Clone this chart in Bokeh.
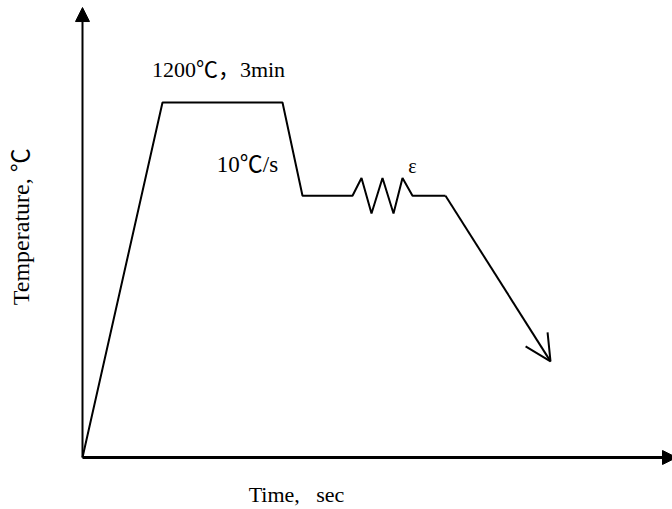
from bokeh.plotting import figure
from bokeh.models import Arrow, NormalHead, OpenHead, Range1d
from bokeh.core.properties import value
from bokeh.embed import file_html
from bokeh.resources import INLINE
import math

# Thermal schedule (schematic): time in arbitrary seconds, temperature in ℃
time_s = [0, 40, 100, 110, 135, 139.5, 144.5, 150, 155.5, 160, 165, 181.5]
temp_c = [0, 1200, 1200, 885, 885, 945, 825, 945, 825, 945, 885, 885]
# final cooling leg, ending in an arrow
cool_start = (181.5, 885)
cool_end = (234, 325)

# axis extents
time_max = 297
temp_max = 1521

soak_label = "1200℃，3min"
rate_label = "10℃/s"
strain_label = "ε"
x_title = "Time,\u00a0\u00a0\u00a0sec"
y_title = "Temperature, ℃"

FONT = value("Liberation Serif, Times New Roman, Noto Sans CJK SC, serif")

p = figure(width=672, height=509, output_backend="svg", toolbar_location=None,
           x_range=Range1d(-41, 295), y_range=Range1d(-175.8, 1544.8),
           min_border=0, min_border_left=0, min_border_right=0,
           min_border_top=0, min_border_bottom=0)
p.axis.visible = False
p.grid.visible = False
p.outline_line_color = None
p.background_fill_color = "white"
p.border_fill_color = "white"

# axes drawn as arrows from the origin
p.add_layout(Arrow(end=NormalHead(size=14, fill_color="black", line_color="black"),
                   x_start=0, y_start=0, x_end=0, y_end=temp_max,
                   line_width=2, line_color="black"))
p.add_layout(Arrow(end=NormalHead(size=14, fill_color="black", line_color="black"),
                   x_start=0, y_start=0, x_end=time_max, y_end=0,
                   line_width=3, line_color="black"))

# heating, soaking, cooling and deformation path
p.line(time_s, temp_c, line_width=2, line_color="black")
p.add_layout(Arrow(end=OpenHead(size=26, line_width=2, line_color="black"),
                   x_start=cool_start[0], y_start=cool_start[1],
                   x_end=cool_end[0], y_end=cool_end[1],
                   line_width=2, line_color="black"))

# annotations
p.text(x=[68], y=[1312], text=[soak_label], text_font=FONT, text_font_size="22px",
       text_align="center", text_baseline="alphabetic", text_color="black")
p.text(x=[82.5], y=[990], text=[rate_label], text_font=FONT, text_font_size="23px",
       text_align="center", text_baseline="alphabetic", text_color="black")
p.text(x=[165], y=[985], text=[strain_label], text_font=FONT, text_font_size="20px",
       text_align="center", text_baseline="alphabetic", text_color="black")
p.text(x=[107], y=[-126], text=[x_title], text_font=FONT, text_font_size="22px",
       text_align="center", text_baseline="alphabetic", text_color="black")
p.text(x=[-31], y=[780], text=[y_title], text_font=FONT, text_font_size="24px",
       angle=math.pi / 2, text_align="center", text_baseline="alphabetic",
       text_color="black")

open("out.html", "w").write(file_html(p, INLINE))
